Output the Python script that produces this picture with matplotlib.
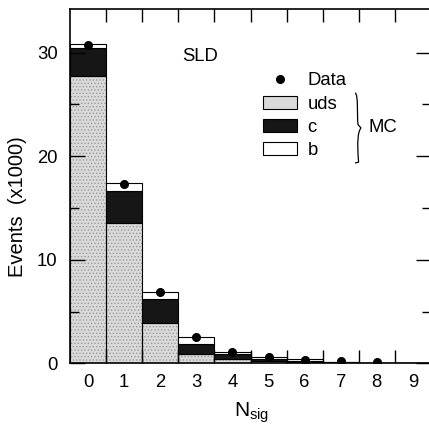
import numpy as np
import matplotlib
matplotlib.use("Agg")
import matplotlib.pyplot as plt
from matplotlib.patches import Patch, PathPatch
from matplotlib.lines import Line2D
from matplotlib.path import Path

plt.rcParams["font.family"] = ["Liberation Sans", "DejaVu Sans"]
plt.rcParams["mathtext.fontset"] = "custom"
plt.rcParams["mathtext.rm"] = "Liberation Sans"
plt.rcParams["mathtext.it"] = "Liberation Sans"
plt.rcParams["hatch.linewidth"] = 0.6

# ── data (events x1000) ─────────────────────────────────────────────────────
nsig = np.arange(10)
uds  = [27.7, 13.5, 3.9, 0.87, 0.40, 0.20, 0.15, 0.06, 0.02, 0.0]
c    = [2.7, 3.1, 2.3, 1.03, 0.45, 0.20, 0.12, 0.05, 0.02, 0.0]
b    = [0.46, 0.8, 0.7, 0.6, 0.25, 0.18, 0.13, 0.04, 0.01, 0.0]
data_n = [0, 1, 2, 3, 4, 5, 6, 7, 8]
data_y = [30.7, 17.35, 6.9, 2.5, 1.1, 0.65, 0.35, 0.22, 0.12]

UDS_C, UDS_H, C_C, B_C = "#dadada", "#999999", "#161616", "white"

fig = plt.figure(figsize=(4.29, 4.28), dpi=100)
ax = fig.add_axes([70/429, 64.7/428, 361/429, 354.3/428])

uds_a, c_a, b_a = np.array(uds), np.array(c), np.array(b)
# uds: stipple fill, then black outline
ax.bar(nsig, uds_a, width=1, color=UDS_C, edgecolor=UDS_H, lw=0, hatch=".....")
ax.bar(nsig, uds_a, width=1, fill=False, edgecolor="black", lw=0.8)
ax.bar(nsig, c_a, width=1, bottom=uds_a, color=C_C, edgecolor="black", lw=0.8)
ax.bar(nsig, b_a, width=1, bottom=uds_a + c_a, color=B_C, edgecolor="black", lw=0.8)
ax.plot(data_n, data_y, "o", color="black", ms=5.5, zorder=5)

ax.set_xlim(-0.5, 9.5)
ax.set_ylim(0, 34.2)

# ticks
ax.set_xticks(nsig)
ax.set_xticks(np.arange(0.5, 9.0, 1.0), minor=True)
ax.set_yticks([0, 10, 20, 30])
ax.set_yticks([5, 15, 25], minor=True)
ax.tick_params(axis="x", which="major", length=0, pad=8, labelsize=13.3)
ax.tick_params(axis="x", which="minor", direction="in", length=9.5, top=True, width=1)
ax.tick_params(axis="y", which="major", direction="in", length=10.8, right=True,
               pad=9, labelsize=13.3, width=1)
ax.tick_params(axis="y", which="minor", direction="in", length=6.3, right=True, width=1)
for s in ax.spines.values():
    s.set_linewidth(1.2)

fig.text(18/429, 1 - 207/428, "Events  (x1000)", rotation=90, ha="center",
         va="center", fontsize=14.5)
fig.text(252/429, 1 - 413/428, r"N$_{\mathrm{sig}}$", ha="center", va="center",
         fontsize=15)
fig.text(200/429, 1 - 57/428, "SLD", ha="center", va="center", fontsize=13.3)

# legend
handles = [
    Line2D([], [], ls="none", marker="o", color="black", ms=5.5),
    Patch(facecolor=UDS_C, edgecolor="black", lw=0.8),
    Patch(facecolor=C_C, edgecolor="black", lw=0.8),
    Patch(facecolor=B_C, edgecolor="black", lw=0.8),
]
labels = ["Data", "uds", "c", "b"]
leg = fig.legend(handles, labels, loc="upper left",
                 bbox_to_anchor=(254/429, 1 - 63/428), frameon=False,
                 fontsize=13.3, handlelength=1.85, handleheight=0.72,
                 labelspacing=0.34, handletextpad=0.55, borderpad=0)

# brace for MC
def brace(x, y0, y1, w):
    ym = (y0 + y1) / 2
    verts = [(x, y1), (x + w * 0.6, y1 - 0.002), (x + w * 0.3, ym + 0.03), (x + w * 0.5, ym + 0.008),
             (x + w * 1.0, ym),
             (x + w * 0.5, ym - 0.008), (x + w * 0.3, ym - 0.03), (x + w * 0.6, y0 + 0.002), (x, y0)]
    codes = [Path.MOVETO, Path.CURVE4, Path.CURVE4, Path.CURVE4,
             Path.LINETO, Path.CURVE4, Path.CURVE4, Path.CURVE4, Path.LINETO]
    return PathPatch(Path(verts, codes), fill=False, lw=0.9, color="black",
                     transform=fig.transFigure)

fig.add_artist(brace(355/429, 1 - 163/428, 1 - 93/428, 6/429))
fig.text(369/429, 1 - 127/428, "MC", ha="left", va="center", fontsize=13.3)

fig.savefig("out.png", dpi=100)
